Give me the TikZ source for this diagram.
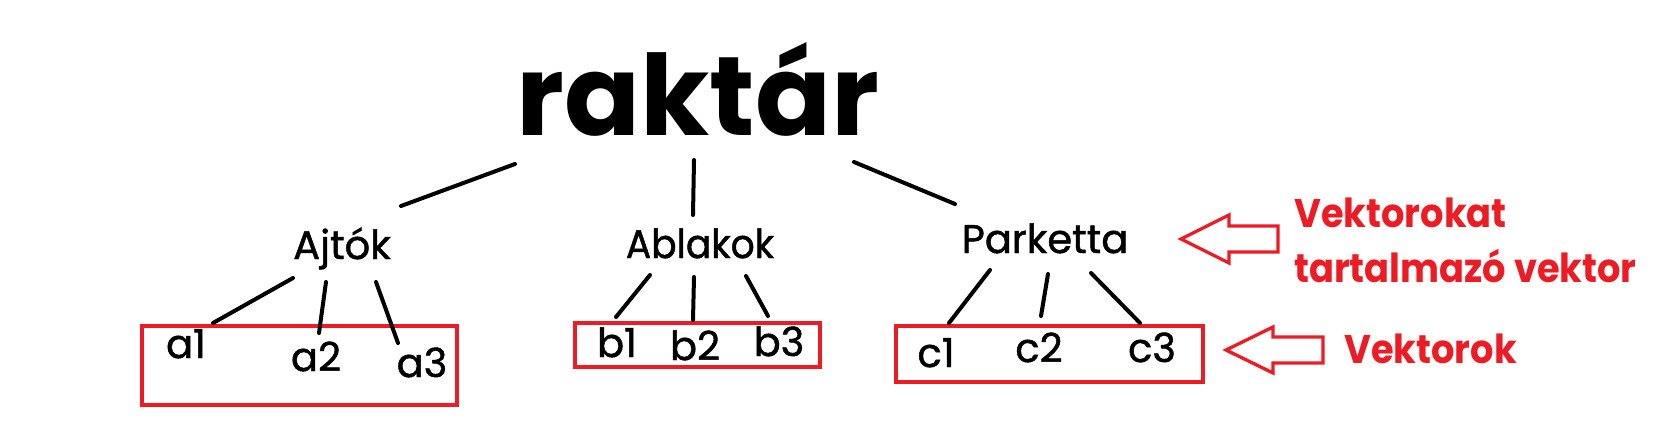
\documentclass[tikz,border=0pt]{standalone}
\usepackage{fontspec}
\setmainfont{Poppins}
\newfontfamily\medfont{Poppins}[FakeBold=1.2]
\definecolor{pred}{RGB}{237,28,36}
\begin{document}
\begin{tikzpicture}[x=1pt,y=-1pt,
  conn/.style={draw=black, line width=4pt, line cap=round},
  vbox/.style={draw=pred, line width=4pt, inner sep=0pt},
  big/.style={anchor=base, inner sep=0pt, font=\fontsize{112}{130}\selectfont\bfseries},
  mid/.style={anchor=base, inner sep=0pt, font=\fontsize{40}{48}\selectfont\medfont},
  leaf/.style={anchor=base, inner sep=0pt, font=\fontsize{40}{48}\selectfont\medfont},
  note/.style={anchor=base west, inner sep=0pt, text=pred, font=\fontsize{40}{48}\selectfont\bfseries},
  hollow/.style={draw=pred, line width=3.3pt, line join=miter}]
\useasboundingbox (0,0) rectangle (1657,424);
\fill[white] (0,0) rectangle (1657,424);

% vector boxes
\draw[vbox] (142,326) rectangle (457,405);
\draw[vbox] (575,323) rectangle (820,367);
\draw[vbox] (896,326) rectangle (1203,382);

% texts
\node[big] (raktar) at (698,135) {raktár};
\node[mid] (ajtok) at (342,259) {Ajtók};
\node[mid] (ablakok) at (700,258) {\scalebox{0.94}[1]{Ablakok}};
\node[mid] (parketta) at (1045,253) {Parketta};
\node[leaf] (a1) at (186,358) {a1};
\node[leaf] (a2) at (316,371) {a2};
\node[leaf] (a3) at (422,377) {a3};
\node[leaf] (b1) at (617,357) {b1};
\node[leaf] (b2) at (695,360) {b2};
\node[leaf] (b3) at (779,356) {b3};
\node[leaf] (c1) at (936,367) {c1};
\node[leaf] (c2) at (1039,362) {c2};
\node[leaf] (c3) at (1152,362) {c3};
\node[note] (n1) at (1294,227) {\scalebox{0.92}[1]{Vektorokat}};
\node[note] (n2) at (1294,282) {\scalebox{0.92}[1]{tartalmazó vektor}};
\node[note] (n3) at (1344,363) {\scalebox{0.92}[1]{Vektorok}};

% connector end points
\coordinate (rA) at (515,164); \coordinate (Ar) at (401,206);
\coordinate (rB) at (694,160); \coordinate (Br) at (693,215);
\coordinate (rC) at (854,162); \coordinate (Cr) at (955,204);
\coordinate (A1t) at (293,278); \coordinate (A1b) at (213,323);
\coordinate (A2t) at (326,282); \coordinate (A2b) at (319,333);
\coordinate (A3t) at (376,282); \coordinate (A3b) at (398,343);
\coordinate (B1t) at (650,275); \coordinate (B1b) at (616,317);
\coordinate (B2t) at (694,277); \coordinate (B2b) at (693,320);
\coordinate (B3t) at (746,276); \coordinate (B3b) at (768,316);
\coordinate (C1t) at (990,270); \coordinate (C1b) at (949,323);
\coordinate (C2t) at (1048,274); \coordinate (C2b) at (1041,316);
\coordinate (C3t) at (1091,273); \coordinate (C3b) at (1140,323);

\draw[conn] (rA) -- (Ar);
\draw[conn] (rB) -- (Br);
\draw[conn] (rC) -- (Cr);
\draw[conn] (A1t) -- (A1b);
\draw[conn] (A2t) -- (A2b);
\draw[conn] (A3t) -- (A3b);
\draw[conn] (B1t) -- (B1b);
\draw[conn] (B2t) -- (B2b);
\draw[conn] (B3t) -- (B3b);
\draw[conn] (C1t) -- (C1b);
\draw[conn] (C2t) -- (C2b);
\draw[conn] (C3t) -- (C3b);

% hollow block arrows
\coordinate (t1) at (1181,239);
\coordinate (t2) at (1226,350);
\draw[hollow] (t1) -- ++(48,-24) -- ++(0,11) -- ++(49,0) -- ++(0,26) -- ++(-49,0) -- ++(0,11) -- cycle;
\draw[hollow] (t2) -- ++(47,-23) -- ++(0,10) -- ++(50,0) -- ++(0,26) -- ++(-50,0) -- ++(0,10) -- cycle;
\end{tikzpicture}
\end{document}
